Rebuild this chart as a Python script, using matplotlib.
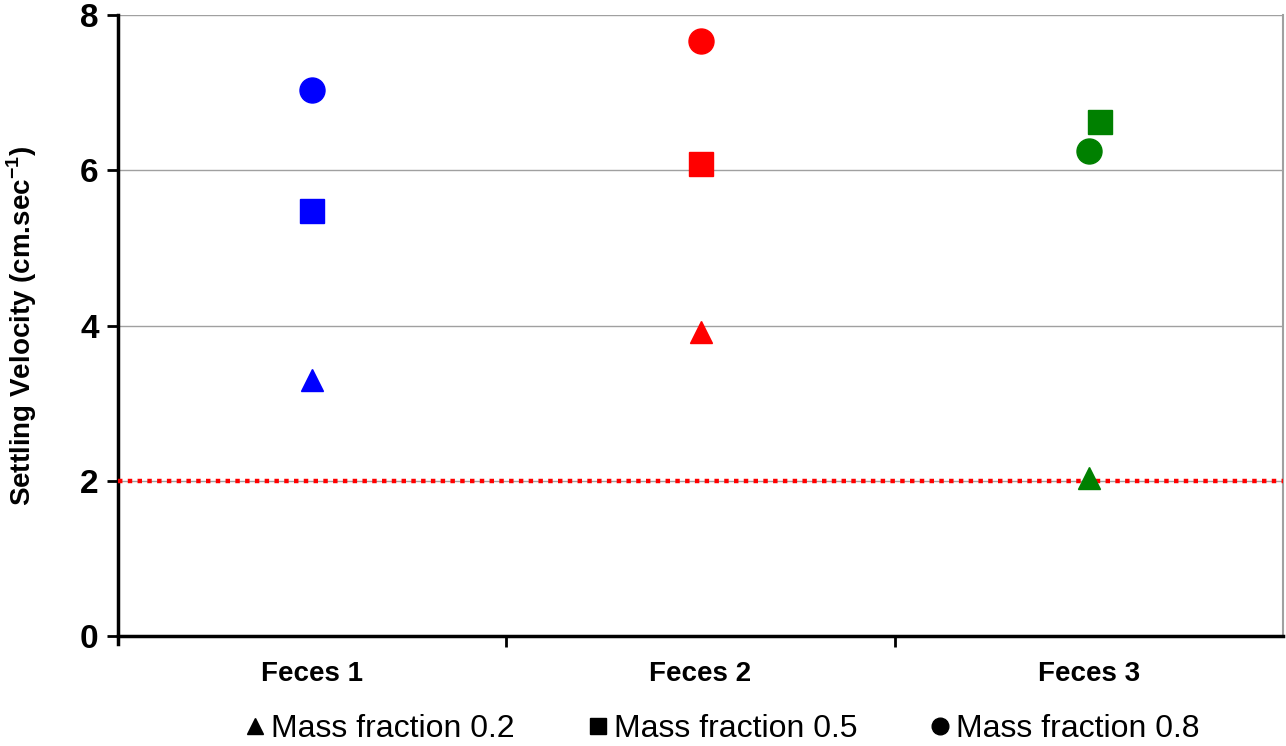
import matplotlib
matplotlib.use("Agg")
import matplotlib.pyplot as plt
from matplotlib.lines import Line2D
from matplotlib import font_manager

samples = ["Feces 1", "Feces 2", "Feces 3"]
colors = ["blue", "red", "green"]
frac_02 = [3.30, 3.92, 2.04]
frac_05 = [5.48, 6.08, 6.62]
frac_08 = [7.04, 7.67, 6.25]
sq_shift = [0.0, 0.0, 0.03]
threshold = 2.0

names = {f.name for f in font_manager.fontManager.ttflist}
narrow = "Liberation Sans Narrow" if "Liberation Sans Narrow" in names else "Liberation Sans"
plt.rcParams["font.family"] = ["Liberation Sans", "DejaVu Sans"]
plt.rcParams["mathtext.fontset"] = "custom"
plt.rcParams["mathtext.rm"] = "Liberation Sans"
plt.rcParams["mathtext.bf"] = "Liberation Sans:bold"

fig = plt.figure(figsize=(12.86, 7.46), dpi=100)
ax = fig.add_axes([118 / 1286, 1 - 636 / 746, 1165 / 1286, 621 / 746])

xs = list(range(len(samples)))
for i in xs:
    ax.plot(i, frac_02[i], marker="^", ms=16, color=colors[i], ls="none", zorder=4)
    ax.plot(i + sq_shift[i], frac_05[i], marker="s", ms=17, color=colors[i], ls="none", zorder=4)
    ax.plot(i, frac_08[i], marker="o", ms=18, color=colors[i], ls="none", zorder=4)

ax.axhline(threshold, color="red", ls=(0, (1, 1.2)), lw=3.2, zorder=3)

ax.set_xlim(-0.5, 2.5)
ax.set_ylim(0, 8)
ax.set_yticks([0, 2, 4, 6, 8])
ax.yaxis.grid(True, color="#a0a0a0", lw=1)
ax.set_axisbelow(True)

ax.set_xticks([0.5, 1.5])
ax.set_xticklabels([])
ax.set_xticks(xs, minor=True)
ax.set_xticklabels(samples, minor=True, fontsize=20, fontweight="bold")
ax.tick_params(axis="x", which="minor", length=0, pad=18)
ax.tick_params(axis="x", which="major", length=8, width=2, direction="out")
ax.tick_params(axis="y", length=8, width=2, direction="out", labelsize=24, pad=6)
for t in ax.get_yticklabels():
    t.set_fontweight("bold")

ax.spines["left"].set_linewidth(2.5)
ax.spines["left"].set_bounds(-0.1, 8)
ax.spines["bottom"].set_linewidth(2.5)
ax.spines["top"].set_visible(False)
ax.spines["right"].set_color("#a0a0a0")
ax.spines["right"].set_linewidth(1.5)

ax.set_ylabel(r"Settling Velocity (cm.sec$^{\mathbf{-1}}$)", fontsize=20,
              fontweight="bold")
ax.yaxis.set_label_coords(-0.068, 0.5)

handles = [Line2D([], [], marker=m, color="black", ls="none", ms=s)
           for m, s in [("^", 11), ("s", 12), ("o", 12)]]
labels = ["Mass fraction 0.2", "Mass fraction 0.5", "Mass fraction 0.8"]
fig.legend(handles, labels, loc="center", bbox_to_anchor=(0.562, 1 - 729 / 746), ncol=3,
           frameon=False, handlelength=0.6, handletextpad=0.2, columnspacing=2.3,
           prop={"family": narrow, "size": 23})

fig.savefig("out.png", dpi=100)
